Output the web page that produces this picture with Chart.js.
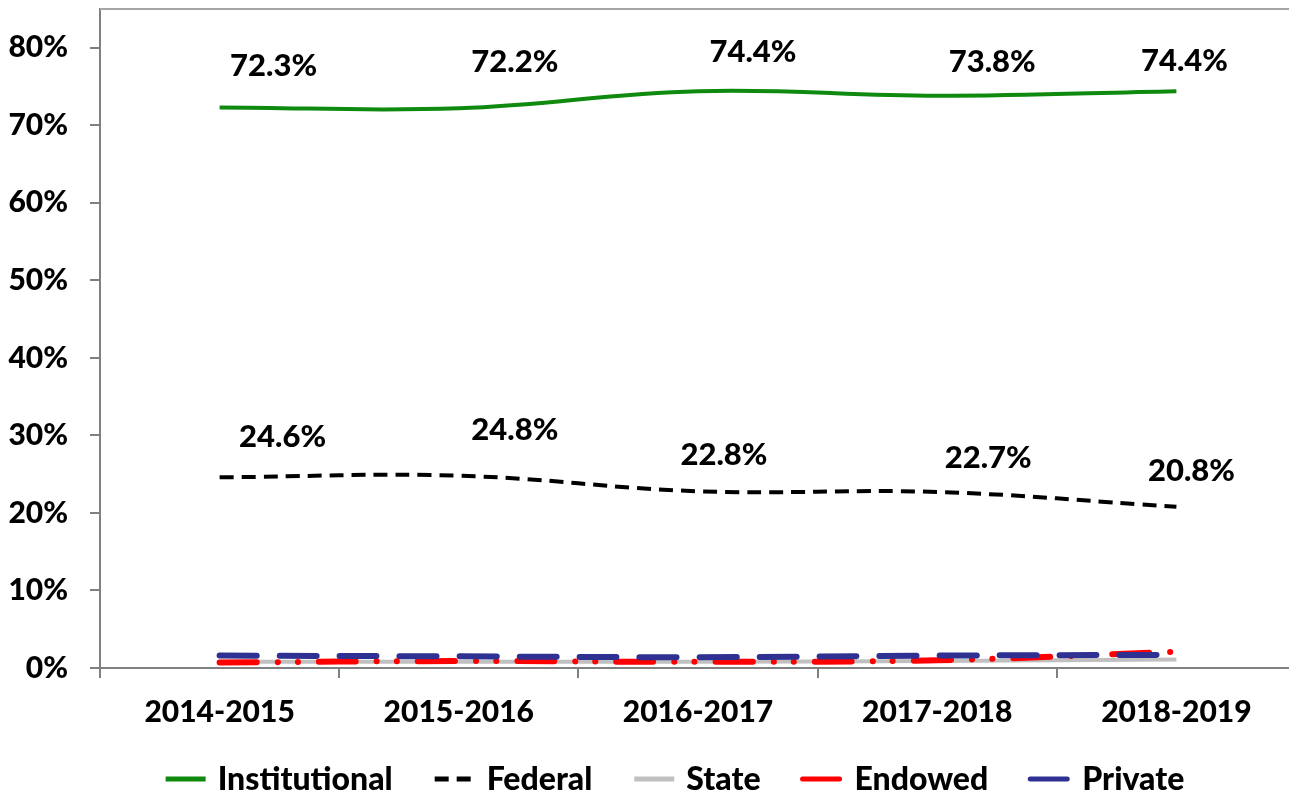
<!DOCTYPE html>
<html>
<head>
<meta charset="utf-8">
<script src="https://cdn.jsdelivr.net/npm/chart.js@4"></script>
<style>
  body { margin: 0; background: #fff; overflow: hidden; }
  #wrap { width: 1300px; height: 798px; }
</style>
</head>
<body>
<div id="wrap"><canvas id="chart" width="1300" height="798"></canvas></div>
<script>
const categories = ['2014-2015', '2015-2016', '2016-2017', '2017-2018', '2018-2019'];

const institutional = [72.3, 72.2, 74.4, 73.8, 74.4];
const federal = [24.6, 24.8, 22.8, 22.7, 20.8];
const state = [0.8, 0.8, 0.8, 0.9, 1.1];
const endowed = [0.7, 0.9, 0.8, 1.0, 2.1];
const privateAid = [1.6, 1.5, 1.4, 1.6, 1.7];

const yTicks = [0, 10, 20, 30, 40, 50, 60, 70, 80];

// where the value labels sit relative to their point (px)
const instLabelShift = [[54, -41], [56, -46], [55, -39], [55, -34], [8, -30]];
const fedLabelShift = [[63, -40], [56, -46], [26, -36], [51, -34], [15, -36]];

const FONT = 'Lato';
const W = '900';

const extras = {
  id: 'extras',
  afterDatasetsDraw(chart) {
    const ctx = chart.ctx;
    const area = chart.chartArea;
    ctx.save();
    // plot area frame (top / right)
    ctx.strokeStyle = '#a6a6a6';
    ctx.lineWidth = 2;
    ctx.beginPath();
    ctx.moveTo(area.left, area.top);
    ctx.lineTo(area.right, area.top);
    ctx.lineTo(area.right, area.bottom);
    ctx.stroke();

    // value labels
    ctx.font = W + ' 31px ' + FONT;
    ctx.fillStyle = '#000';
    ctx.textAlign = 'center';
    ctx.textBaseline = 'middle';
    [[0, institutional, instLabelShift], [1, federal, fedLabelShift]].forEach(([idx, vals, shift]) => {
      const meta = chart.getDatasetMeta(idx);
      meta.data.forEach((pt, i) => {
        ctx.fillText(vals[i].toFixed(1) + '%', pt.x + shift[i][0], pt.y + shift[i][1]);
      });
    });

    // legend
    const sets = chart.data.datasets;
    ctx.font = W + ' 32px ' + FONT;
    ctx.textAlign = 'left';
    const lineLen = 40, gapTxt = 12, gapItem = 42;
    const widths = sets.map(d => lineLen + gapTxt + ctx.measureText(d.label).width);
    const total = widths.reduce((a, b) => a + b, 0) + gapItem * (sets.length - 1);
    let x = 675 - total / 2;
    const y = 779;
    sets.forEach((d, i) => {
      ctx.strokeStyle = d.borderColor;
      ctx.lineWidth = 5;
      ctx.lineCap = d.borderCapStyle || 'butt';
      ctx.setLineDash(d.borderDash || []);
      ctx.beginPath();
      ctx.moveTo(x, y);
      ctx.lineTo(x + lineLen, y);
      ctx.stroke();
      ctx.setLineDash([]);
      ctx.fillText(d.label, x + lineLen + gapTxt, y + 1);
      x += widths[i] + gapItem;
    });
    ctx.restore();
  }
};

const noPad = (s) => { s.paddingTop = 0; s.paddingBottom = 0; s.paddingLeft = 0; s.paddingRight = 0; };

new Chart(document.getElementById('chart').getContext('2d'), {
  type: 'line',
  data: {
    labels: categories,
    datasets: [{
      label: 'Institutional',
      data: institutional,
      borderColor: '#0f8a0f',
      borderWidth: 4,
      tension: 0.4,
      order: 5
    }, {
      label: 'Federal',
      data: federal,
      borderColor: '#000000',
      borderWidth: 4,
      borderDash: [14, 8],
      tension: 0.4,
      order: 4
    }, {
      label: 'State',
      data: state,
      borderColor: '#c0c0c0',
      borderWidth: 4,
      tension: 0.4,
      order: 3
    }, {
      label: 'Endowed',
      data: endowed,
      borderColor: '#ff0000',
      borderWidth: 6,
      borderDash: [37, 21, 0.1, 20, 0.1, 21],
      borderCapStyle: 'round',
      tension: 0.4,
      order: 2
    }, {
      label: 'Private',
      data: privateAid,
      borderColor: '#2e3192',
      borderWidth: 6,
      borderDash: [37, 23],
      borderCapStyle: 'round',
      tension: 0.4,
      order: 1
    }]
  },
  options: {
    responsive: false,
    devicePixelRatio: 1,
    animation: false,
    elements: { point: { radius: 0 } },
    layout: { padding: { left: 0, right: 4, top: 9, bottom: 48 } },
    plugins: {
      tooltip: { enabled: false },
      legend: { display: false }
    },
    scales: {
      x: {
        offset: true,
        grid: { offset: true, drawOnChartArea: false, tickLength: 10, color: '#808080', lineWidth: 2 },
        border: { color: '#808080', width: 2 },
        ticks: { color: '#000', font: { family: FONT, size: 30, weight: W }, padding: 16, maxRotation: 0 },
        afterFit: (s) => { s.height = 82; noPad(s); }
      },
      y: {
        min: 0,
        max: 85,
        afterBuildTicks: (s) => { s.ticks = yTicks.map(v => ({ value: v })); },
        grid: { drawOnChartArea: false, tickLength: 10, color: '#808080', lineWidth: 2 },
        border: { color: '#808080', width: 2 },
        ticks: {
          color: '#000',
          font: { family: FONT, size: 30, weight: W },
          padding: 22,
          callback: (v) => v + '%'
        },
        afterFit: (s) => { s.width = 100; noPad(s); }
      }
    }
  },
  plugins: [extras]
});
</script>
</body>
</html>
